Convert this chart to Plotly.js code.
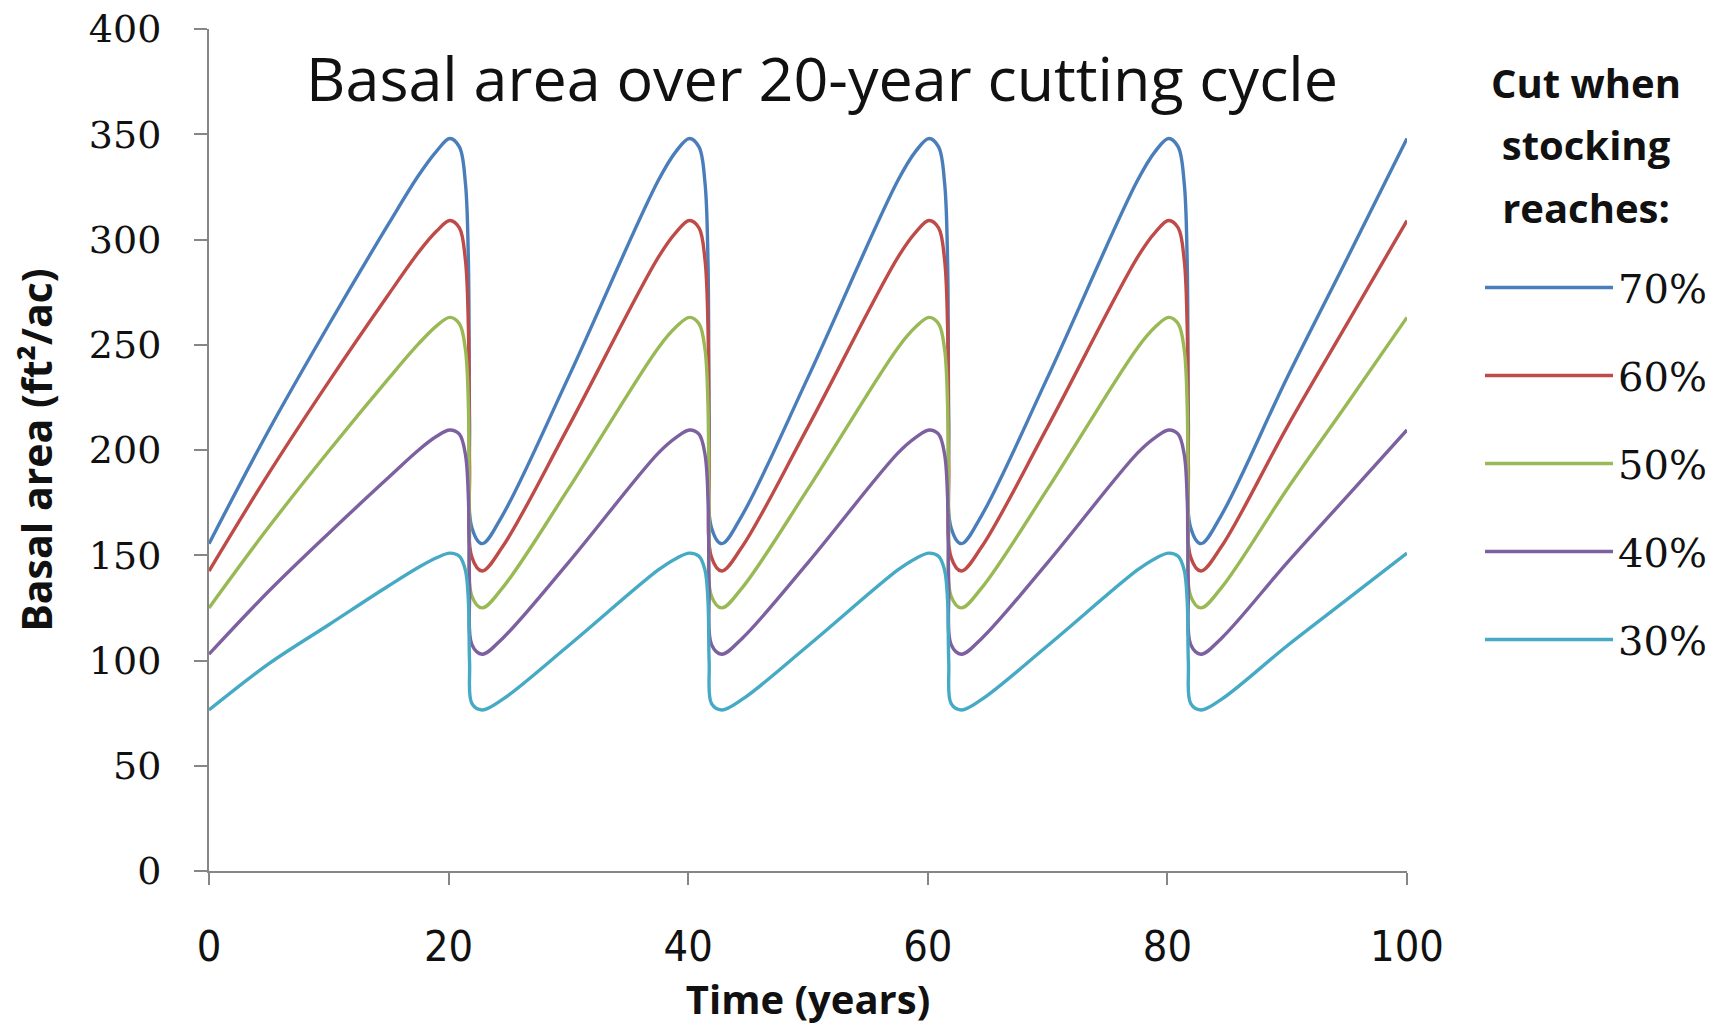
<!DOCTYPE html>
<html>
<head>
<meta charset="utf-8">
<script src="https://cdn.plot.ly/plotly-3.0.1.min.js"></script>
<style>html,body{margin:0;padding:0;background:#fff;}#chart{width:1727px;height:1026px;}</style>
</head>
<body>
<div id="chart"></div>
<script>
// Time points (years)
const years = [0,5,10,15,17.5,19,20.1,
  20.9,21.4,21.65,21.75,21.95,22.8,24.5,30,37.5,39,40.1,
  40.9,41.4,41.65,41.75,41.95,42.8,44.5,50,57.5,59,60.1,
  60.9,61.4,61.65,61.75,61.95,62.8,64.5,70,77.5,79,80.1,
  80.9,81.4,81.65,81.75,81.95,82.8,84.5,90,95,100];

// Basal area (ft2/ac) for each stocking threshold
const ba70 = [155.5,209.5,259.5,307.5,330.5,342,348,
  344,327,290,213,163,155.5,169,234.5,328,342,348,
  344,327,290,213,163,155.5,169,234.5,328,342,348,
  344,327,290,213,163,155.5,169,234.5,328,342,348,
  344,327,290,213,163,155.5,169,234.5,291,348];
const ba60 = [142.5,189,232.5,274,294,304,309,
  305.5,290.5,259,192.5,149,142.5,154,211,291.5,303.5,309,
  305.5,290.5,259,192.5,149,142.5,154,211,291.5,303.5,309,
  305.5,290.5,259,192.5,149,142.5,154,211,291.5,303.5,309,
  305.5,290.5,259,192.5,149,142.5,154,211,260,309];
const ba50 = [125,163.5,199.5,234,250.5,259,263,
  260,248,221.5,166.5,130.5,125,134.5,181.5,248.5,258.5,263,
  260,248,221.5,166.5,130.5,125,134.5,181.5,248.5,258.5,263,
  260,248,221.5,166.5,130.5,125,134.5,181.5,248.5,258.5,263,
  260,248,221.5,166.5,130.5,125,134.5,181.5,222,263];
const ba40 = [103,133,160.5,187,200,206.5,209.5,
  207.5,198,177.5,135,107.5,103,110.5,146.5,198.5,206,209.5,
  207.5,198,177.5,135,107.5,103,110.5,146.5,198.5,206,209.5,
  207.5,198,177.5,135,107.5,103,110.5,146.5,198.5,206,209.5,
  207.5,198,177.5,135,107.5,103,110.5,146.5,178,209.5];
const ba30 = [76.5,98.5,117,135.5,144.3,148.8,151,
  149.5,143,128.5,99,79.5,76.5,81.5,107,143,148.5,151,
  149.5,143,128.5,99,79.5,76.5,81.5,107,143,148.5,151,
  149.5,143,128.5,99,79.5,76.5,81.5,107,143,148.5,151,
  149.5,143,128.5,99,79.5,76.5,81.5,107,129,151];

const seriesNames = ['70%','60%','50%','40%','30%'];
const seriesValues = [ba70, ba60, ba50, ba40, ba30];
const xTicks = [0,20,40,60,80,100];
const yTicks = [0,50,100,150,200,250,300,350,400];
const yGrid = [50,100,150,200,250,300,350];
const legendHeading = ['Cut when','stocking','reaches:'];

const colors = ['#4A7EBB','#BE4B48','#98B954','#7D60A0','#46AAC5'];

const traces = seriesNames.map((name, i) => ({
  type: 'scatter',
  mode: 'lines',
  name: name,
  legendgroup: 'g' + i,
  x: years,
  y: seriesValues[i],
  line: {color: colors[i], width: 3.4, shape: 'spline', smoothing: 1},
  hoverinfo: 'x+y+name'
}));

const axisGrey = '#868686';

const layout = {
  width: 1727,
  height: 1026,
  margin: {l: 209, r: 320, t: 29, b: 155},
  paper_bgcolor: '#ffffff',
  plot_bgcolor: '#ffffff',
  showlegend: true,
  title: {
    text: 'Basal area over 20-year cutting cycle',
    font: {family: 'Open Sans, Liberation Sans, sans-serif', size: 61, color: '#111'},
    xref: 'container', yref: 'container',
    x: 0.476, y: 0.922, xanchor: 'center', yanchor: 'middle'
  },
  xaxis: {
    range: [0, 100],
    tickvals: xTicks,
    ticktext: xTicks.map(String),
    ticks: 'outside', ticklen: 12, tickwidth: 2, tickcolor: axisGrey,
    showline: true, linecolor: axisGrey, linewidth: 2,
    showgrid: false, zeroline: false,
    ticklabelstandoff: 24,
    tickfont: {family: 'DejaVu Sans Condensed, Lato, sans-serif', size: 43, color: '#111'},
    title: {text: 'Time (years)', standoff: 30,
      font: {family: 'Open Sans, sans-serif', size: 40, weight: 700, color: '#111'}}
  },
  yaxis: {
    range: [0, 400],
    tickvals: yTicks,
    ticktext: yTicks.map(String),
    ticks: 'outside', ticklen: 13, tickwidth: 2, tickcolor: axisGrey,
    showline: true, linecolor: axisGrey, linewidth: 2,
    showgrid: false, zeroline: false,
    ticklabelstandoff: 25,
    tickfont: {family: 'DejaVu Serif, serif', size: 38, color: '#111'},
    title: {text: 'Basal area (ft²/ac)', standoff: 24,
      font: {family: 'Open Sans, sans-serif', size: 41, weight: 700, color: '#111'}}
  },
  yaxis2: {
    overlaying: 'y',
    range: [0, 400],
    tickvals: yGrid,
    showgrid: true, gridcolor: '#c4c4c4', gridwidth: 1.5,
    showticklabels: false, ticks: '', showline: false, zeroline: false
  },
  legend: {
    xref: 'container', yref: 'container',
    x: 1480 / 1727, y: 1 - 255 / 1026,
    xanchor: 'left', yanchor: 'top',
    bgcolor: 'rgba(0,0,0,0)',
    font: {family: 'DejaVu Serif, serif', size: 40, color: '#111'},
    tracegroupgap: 33,
    itemwidth: 128,
    maxheight: 900
  },
  annotations: [{
    xref: 'paper', yref: 'paper',
    x: (1586 - 209) / 1198, y: (871 - 145) / 842,
    xanchor: 'center', yanchor: 'middle', align: 'center',
    showarrow: false,
    text: legendHeading.map(s => '<span style="font-size:40px">' + s + '</span>').join('<br>'),
    font: {family: 'Open Sans, sans-serif', size: 48, weight: 700, color: '#111'}
  }]
};

Plotly.newPlot('chart', traces, layout, {displayModeBar: false, staticPlot: true});
</script>
</body>
</html>
